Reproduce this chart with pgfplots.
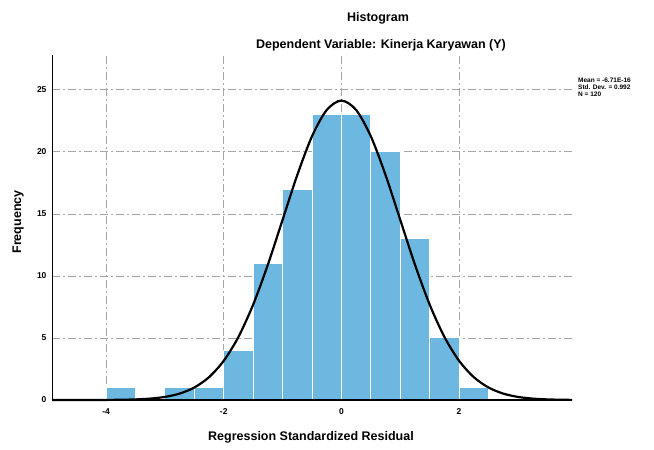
\documentclass[border=0pt]{standalone}
\usepackage{pgfplots}
\pgfplotsset{compat=1.18}
\usepackage{fontspec}
\setmainfont{Liberation Sans}
\definecolor{barblue}{RGB}{108,184,224}
\begin{document}
\begin{tikzpicture}[x=1pt,y=1pt]
\path[use as bounding box, fill=white] (0,0) rectangle (654,450);
\begin{axis}[
  at={(52pt,50pt)}, anchor=south west,
  width=520pt, height=345pt, scale only axis,
  xmin=-4.92, xmax=3.92, ymin=0, ymax=27.8,
  axis lines*=left,
  axis line style={black, line width=1pt, -},
  xtick={-4,-2,0,2}, ytick={0,5,10,15,20,25},
  xticklabels={-4,-2,0,2},
  major tick length=0pt,
  grid=major,
  grid style={gray!70, line width=0.6pt, dash pattern=on 8pt off 3pt on 2pt off 3pt},
  ticklabel style={font=\bfseries\fontsize{8.5}{9}\selectfont},
  xticklabel style={yshift=-5pt},
  yticklabel style={xshift=-2pt},
  /pgf/number format/assume math mode=true,
  clip=false,
]
\addplot[ybar, bar width=0.5, bar shift=0pt, fill=barblue, draw=white, line width=1pt]
coordinates {
(-3.75,1) (-2.75,1) (-2.25,1) (-1.75,4) (-1.25,11) (-0.75,17) (-0.25,23)
(0.25,23) (0.75,20) (1.25,13) (1.75,5) (2.25,1)
};
\addplot[black, line width=2.2pt, smooth, no marks] coordinates {
(-4.92,0.000) (-4.5,0.001) (-4.0,0.007) (-3.75,0.019) (-3.5,0.048) (-3.25,0.113)
(-3.0,0.249) (-2.75,0.517) (-2.5,1.008) (-2.25,1.843) (-2.0,3.161) (-1.75,5.09)
(-1.5,7.69) (-1.25,10.91) (-1.0,14.52) (-0.75,18.13) (-0.5,21.25) (-0.25,23.37)
(0,24.13)
(0.25,23.37) (0.5,21.25) (0.75,18.13) (1.0,14.52) (1.25,10.91) (1.5,7.69)
(1.75,5.09) (2.0,3.161) (2.25,1.843) (2.5,1.008) (2.75,0.517) (3.0,0.249)
(3.25,0.113) (3.5,0.048) (3.75,0.019) (3.92,0.010)
};
\draw[black, line width=1.2pt] (axis cs:-4.92,0) -- (axis cs:3.92,0);
\end{axis}
\node[font=\bfseries\fontsize{12.5}{14}\selectfont] at (378,432) {Histogram};
\node[font=\bfseries\fontsize{12.5}{14}\selectfont] at (381,405) {Dependent Variable: Kinerja Karyawan (Y)};
\node[font=\bfseries\fontsize{12.5}{14}\selectfont] at (311,13) {Regression Standardized Residual};
\node[font=\bfseries\fontsize{12.5}{14}\selectfont, rotate=90] at (18,228) {Frequency};
\node[font=\bfseries\fontsize{6.5}{7}\selectfont, anchor=north west, align=left, inner sep=0pt] at (578,372)
  {Mean = -6.71E-16\\Std. Dev. = 0.992\\N = 120};
\end{tikzpicture}
\end{document}
